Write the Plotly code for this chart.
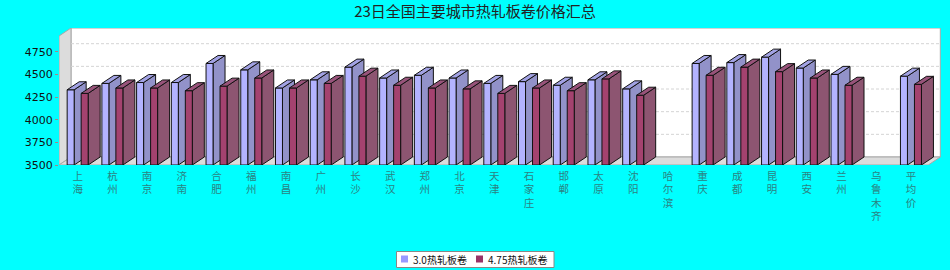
import plotly.graph_objects as go

# ---- data -------------------------------------------------------------
cities = ["上海", "杭州", "南京", "济南", "合肥", "福州", "南昌", "广州", "长沙",
          "武汉", "郑州", "北京", "天津", "石家庄", "邯郸", "太原", "沈阳", "哈尔滨",
          "重庆", "成都", "昆明", "西安", "兰州", "乌鲁木齐", "平均价"]
price_30 = [4330, 4400, 4410, 4410, 4620, 4550, 4350, 4440, 4580, 4460, 4490, 4460,
            4400, 4420, 4380, 4440, 4340, None, 4620, 4630, 4690, 4570, 4500, None, 4480]
price_475 = [4290, 4350, 4350, 4320, 4370, 4460, 4350, 4400, 4480, 4380, 4350, 4340,
             4290, 4350, 4320, 4450, 4270, None, 4490, 4580, 4530, 4460, 4380, None, 4390]
series_names = ["3.0热轧板卷", "4.75热轧板卷"]
y_ticks = [3500, 3750, 4000, 4250, 4500, 4750]
title = "23日全国主要城市热轧板卷价格汇总"

# ---- geometry (category units / value units) ---------------------------
W, H = 950, 270
M_L, M_R, M_T, M_B = 59, 9, 28, 105
plot_w = W - M_L - M_R
plot_h = H - M_T - M_B
px_per_cat = 34.72
x_min = -0.5 - 1.3 / px_per_cat
x_max = x_min + plot_w / px_per_cat
y_min = 3500
px_per_val = 0.09064
y_max = y_min + plot_h / px_per_val

DX = 12 / px_per_cat          # 3D depth, horizontal
DY = 8 / px_per_val           # 3D depth, vertical
x_front_r = 24.5
bar_w = 7 / px_per_cat
gap_half = 3.5 / px_per_cat

front_cols = ["#b3b3ff", "#a4426f"]
top_cols = ["#a2a2e4", "#98537a"]
side_cols = ["#9292c9", "#8d5571"]
legend_cols = ["#9999ff", "#993366"]
edge = "#111111"


def faces(values, x_off):
    """Polygons (front, top, side) of 3D bars for one series."""
    fx, fy, tx, ty, sx, sy = [], [], [], [], [], []
    for i, v in enumerate(values):
        if v is None:
            continue
        x0 = i + x_off
        x1 = x0 + bar_w
        fx += [x0, x1, x1, x0, x0, None]
        fy += [y_min, y_min, v, v, y_min, None]
        tx += [x0, x1, x1 + DX, x0 + DX, x0, None]
        ty += [v, v, v + DY, v + DY, v, None]
        sx += [x1, x1 + DX, x1 + DX, x1, x1, None]
        sy += [y_min, y_min + DY, v + DY, v, y_min, None]
    return (fx, fy), (tx, ty), (sx, sy)


fig = go.Figure()

offsets = [-gap_half - bar_w, gap_half]
for k, vals in enumerate([price_30, price_475]):
    front, top, side = faces(vals, offsets[k])
    for (px, py), col in ((side, side_cols[k]), (front, front_cols[k]), (top, top_cols[k])):
        fig.add_trace(go.Scatter(
            x=px, y=py, mode="lines", fill="toself", fillcolor=col, name=series_names[k],
            line=dict(color=edge, width=1), hoverinfo="skip", showlegend=False))

# ---- walls, floor and grid (back plane) --------------------------------
shapes = []
wall_line = dict(color="#a8a8a8", width=1)
shapes.append(dict(type="path", xref="x", yref="y", layer="below",
                   path=f"M{x_min + DX},{y_min + DY} L{x_front_r + DX},{y_min + DY} "
                        f"L{x_front_r + DX},{y_max} L{x_min + DX},{y_max} Z",
                   fillcolor="white", line=wall_line))
shapes.append(dict(type="path", xref="x", yref="y", layer="below",
                   path=f"M{x_min},{y_min} L{x_min + DX},{y_min + DY} "
                        f"L{x_min + DX},{y_max} L{x_min},{y_max - DY} Z",
                   fillcolor="#dcdcdc", line=wall_line))
shapes.append(dict(type="path", xref="x", yref="y", layer="below",
                   path=f"M{x_min},{y_min} L{x_front_r},{y_min} "
                        f"L{x_front_r + DX},{y_min + DY} L{x_min + DX},{y_min + DY} Z",
                   fillcolor="#dcdcdc", line=wall_line))
for t in y_ticks[1:]:
    shapes.append(dict(type="line", xref="x", yref="y", layer="below",
                       x0=x_min + DX, x1=x_front_r + DX, y0=t + DY, y1=t + DY,
                       line=dict(color="#d4d4d4", width=1, dash="3px,2px")))


# ---- legend box (pixel positions converted to paper coordinates) -------
def px_x(p):
    return (p - M_L) / plot_w


def px_y(p):
    return (M_T + plot_h - p) / plot_h


annotations = []
shapes.append(dict(type="rect", xref="paper", yref="paper",
                   x0=px_x(396.5), x1=px_x(554), y0=px_y(251.5), y1=px_y(267.5),
                   fillcolor="white", line=dict(color="#888888", width=1)))
legend_items = [(401, series_names[0]), (476, series_names[1])]
for k, (sx0, name) in enumerate(legend_items):
    shapes.append(dict(type="rect", xref="paper", yref="paper",
                       x0=px_x(sx0), x1=px_x(sx0 + 7), y0=px_y(255.5), y1=px_y(262.5),
                       fillcolor=legend_cols[k], line=dict(width=0)))
    annotations.append(dict(text=name, xref="paper", yref="paper",
                            x=px_x(sx0 + 10), y=px_y(259.5), xanchor="left",
                            yanchor="middle", showarrow=False,
                            font=dict(family="Noto Sans CJK SC", size=10, color="#111111")))

fig.update_layout(
    width=W, height=H,
    margin=dict(l=M_L, r=M_R, t=M_T, b=M_B, pad=0, autoexpand=False),
    paper_bgcolor="#00ffff", plot_bgcolor="rgba(0,0,0,0)",
    shapes=shapes, annotations=annotations,
    title=dict(text=title, x=0.5, xref="container", y=1 - 12 / H, yanchor="middle",
               xanchor="center",
               font=dict(family="Noto Sans CJK SC", size=15, color="#222222")),
    font=dict(family="Noto Sans CJK SC"),
    showlegend=False,
)
fig.update_xaxes(range=[x_min, x_max], tickmode="array",
                 tickvals=list(range(len(cities))),
                 ticktext=["<br>".join(c) for c in cities],
                 showgrid=False, zeroline=False, showline=False, ticks="",
                 ticklabelstandoff=3,
                 tickfont=dict(family="Noto Sans CJK SC", size=10.5, color="#2b8383"),
                 automargin=False, fixedrange=True)
fig.update_yaxes(range=[y_min, y_max], tickmode="array", tickvals=y_ticks,
                 showgrid=False, zeroline=False, showline=False,
                 ticks="outside", ticklen=3, tickcolor="#a08888",
                 tickfont=dict(family="DejaVu Sans", size=11, color="#111111"),
                 automargin=False, fixedrange=True)

fig.write_html("out.html")
